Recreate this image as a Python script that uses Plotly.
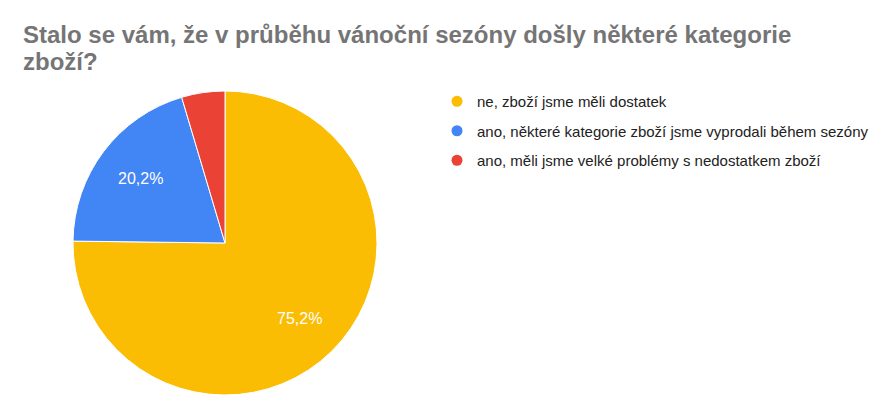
import math
import plotly.graph_objects as go

categories = [
    "ne, zboží jsme měli dostatek",
    "ano, některé kategorie zboží jsme vyprodali během sezóny",
    "ano, měli jsme velké problémy s nedostatkem zboží",
]
values = [75.2, 20.2, 4.6]
colors = ["#FBBC04", "#4285F4", "#EA4335"]
title_lines = ["Stalo se vám, že v průběhu vánoční sezóny došly některé kategorie", "zboží?"]

OFF = 8  # default page body margin
W, H = 893 - OFF, 416 - OFF


def px(x):
    return (x - OFF) / W


def py(y):
    return 1 - (y - OFF) / H


cx, cy, r = 225, 243, 152  # pie centre/radius in page px

fig = go.Figure()
fig.add_trace(go.Pie(
    labels=categories, values=values, sort=False, direction="clockwise",
    rotation=0, marker=dict(colors=colors, line=dict(color="white", width=1)),
    textinfo="none", hoverinfo="label+percent", showlegend=False,
    domain=dict(x=[px(cx - r), px(cx + r)], y=[py(cy + r), py(cy - r)]),
))

annotations = []
# title lines
for i, line in enumerate(title_lines):
    annotations.append(dict(
        x=px(21), y=py(34 + 28 * i), xref="paper", yref="paper", showarrow=False,
        xanchor="left", yanchor="middle", text=f"<b>{line}</b>",
        font=dict(family="Arial", size=24, color="#757575"),
    ))

# percentage labels along slice bisectors
total = sum(values)
cum = 0
for v in values:
    frac = v / total
    mid = (cum + frac / 2) * 2 * math.pi
    cum += frac
    if frac < 0.05:
        continue
    lx = cx + 0.7 * r * math.sin(mid)
    ly = cy - 0.7 * r * math.cos(mid)
    annotations.append(dict(
        x=px(lx), y=py(ly), xref="paper", yref="paper", showarrow=False,
        xanchor="center", yanchor="middle",
        text=f"{frac*100:.1f}%".replace(".", ","),
        font=dict(family="Arial", size=16, color="white"),
    ))

# legend entries with circle markers
for i, (c, col) in enumerate(zip(categories, colors)):
    fig.add_trace(go.Scatter(
        x=[None], y=[None], mode="markers", name=c, legendgroup=str(i),
        marker=dict(symbol="circle", size=11, color=col),
    ))

fig.update_layout(
    width=W, height=H, margin=dict(l=0, r=0, t=0, b=0),
    paper_bgcolor="white", plot_bgcolor="white",
    xaxis=dict(visible=False), yaxis=dict(visible=False),
    showlegend=True,
    legend=dict(x=px(437), y=py(85), xanchor="left", yanchor="top",
                font=dict(family="Arial", size=15, color="#222222"),
                traceorder="grouped", tracegroupgap=7, itemclick=False),
    annotations=annotations,
)

fig.write_html("out.html")
